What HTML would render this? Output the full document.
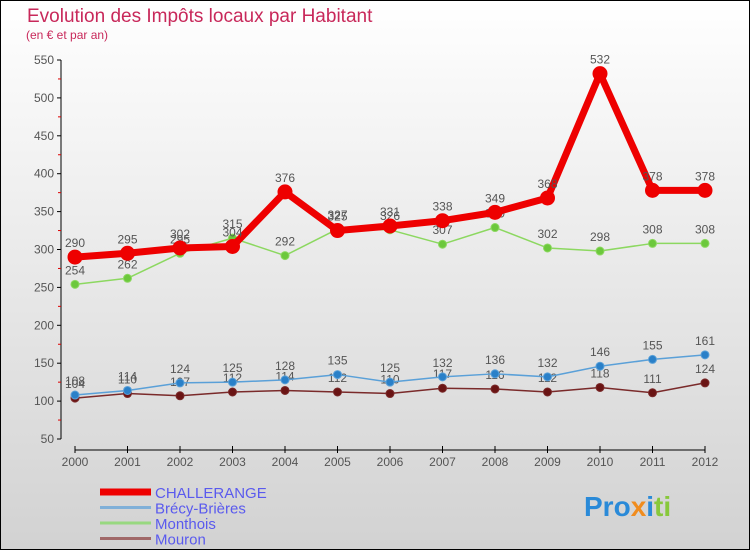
<!DOCTYPE html>
<html><head><meta charset="utf-8"><style>
body{margin:0}
#c{position:relative;width:750px;height:550px;font-family:"Liberation Sans",sans-serif}
</style></head><body>
<div id="c">
<svg id="s" width="750" height="550" xmlns="http://www.w3.org/2000/svg">
<defs><linearGradient id="bg" x1="0" y1="0" x2="0" y2="1"><stop offset="0" stop-color="#ffffff"/><stop offset="1" stop-color="#d2d2d2"/></linearGradient></defs>
<rect x="0.5" y="0.5" width="749" height="549" fill="url(#bg)" stroke="#000"/>
<text x="27" y="22" font-size="19" fill="#c8285a">Evolution des Impôts locaux par Habitant</text>
<text x="26" y="39" font-size="12" fill="#c8285a">(en € et par an)</text>
<g id="axes"></g><g id="series"></g><g id="legend"></g>
<text x="584" y="516" font-size="28" font-weight="bold" fill="#2a8ad8">Pro<tspan fill="#f08c1e">x</tspan><tspan fill="#2a8ad8">i</tspan><tspan fill="#88c83c">ti</tspan></text>
</svg>
</div>
<script>
const years=["2000","2001","2002","2003","2004","2005","2006","2007","2008","2009","2010","2011","2012"];
const yTicks=[50,100,150,200,250,300,350,400,450,500,550];
const challerange=[290,295,302,304,376,325,331,338,349,368,532,378,378];
const brecy=[108,114,124,125,128,135,125,132,136,132,146,155,161];
const monthois=[254,262,295,315,292,327,326,307,329,302,298,308,308];
const mouron=[104,110,107,112,114,112,110,117,116,112,118,111,124];
const NS="http://www.w3.org/2000/svg";
const X=i=>75+i*52.5;
const Y=v=>439-(v-50)*0.758;
function mk(t,a,p){const e=document.createElementNS(NS,t);for(const k in a)e.setAttribute(k,a[k]);p.appendChild(e);return e;}
const ax=document.getElementById('axes');
let yl=mk('line',{x1:61,y1:Y(550),x2:61,y2:Y(50),stroke:'#000'},ax);


yTicks.forEach((v,i)=>{
 mk('line',{x1:57,y1:Y(v),x2:61,y2:Y(v),stroke:'#000'},ax);
 if(i<yTicks.length-1) mk('line',{x1:58,y1:Y(v+25),x2:61,y2:Y(v+25),stroke:'#d00'},ax);
 const t=mk('text',{x:54,y:Y(v)+4,'font-size':12,fill:'#555','text-anchor':'end'},ax);
 t.textContent=v;
 
 
});
let xl=mk('line',{x1:X(0),y1:450,x2:X(12),y2:450,stroke:'#000'},ax);


years.forEach((y,i)=>{
 mk('line',{x1:X(i),y1:446,x2:X(i),y2:453,stroke:'#000'},ax);
 const t=mk('text',{x:X(i),y:466,'font-size':12,fill:'#555','text-anchor':'middle'},ax);
 t.textContent=y;
 
 
});
const sg=document.getElementById('series');
function draw(data,color,w,r,name,dot){
 const g=mk('g',{},sg);
 
 
 const pl=mk('polyline',{points:data.map((v,i)=>X(i)+','+Y(v)).join(' '),fill:'none',stroke:color,'stroke-width':w,'stroke-linejoin':'round'},g);
 
 
 data.forEach((v,i)=>{
  const c=mk('circle',{cx:X(i),cy:Y(v),r:r,fill:dot,stroke:color,'stroke-width':1},g);
  
  
  const t=mk('text',{x:X(i),y:Y(v)-10,'font-size':12,fill:'#555','text-anchor':'middle'},g);
  t.textContent=v;
  
  
 });
}
draw(mouron,'#7a2a2a',1.5,4,'mouron','#6a1414');
draw(brecy,'#5aa0d8',1.5,4,'brecy-brieres','#2a80c8');
draw(monthois,'#8cd860',1.5,4,'monthois','#6cc83c');
draw(challerange,'#ee0000',7,7,'challerange','#ee0000');
const lg=document.getElementById('legend');
[['CHALLERANGE','#ee0000',7],['Brécy-Brières','#80b0d8',3],['Monthois','#98d880',3],['Mouron','#a06868',3]].forEach((e,i)=>{
 const y=492+i*15.5;
 const g=mk('g',{},lg);
 
 
 mk('line',{x1:100,y1:y,x2:151,y2:y,stroke:e[1],'stroke-width':e[2]},g);
 const t=mk('text',{x:155,y:y+6,'font-size':15,fill:'#5a5aee'},g);
 t.textContent=e[0];
});
</script>
</body></html>
